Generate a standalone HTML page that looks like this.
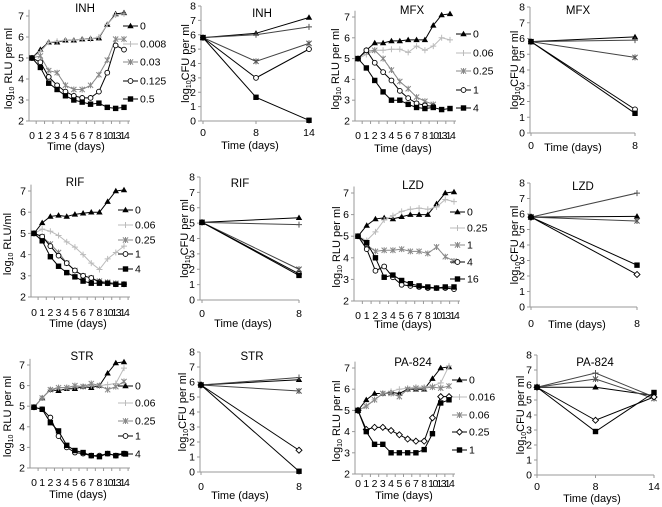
<!DOCTYPE html>
<html><head><meta charset="utf-8">
<style>
body{margin:0;background:#fff;}
svg{display:block;font-family:"Liberation Sans",Arial,sans-serif;}
</style></head>
<body>
<svg id="fig" width="662" height="507" viewBox="0 0 662 507"></svg>
<script>
// ---- data ----
const rluDays = ["0","1","2","3","4","5","6","7","8","10","13","14"];
const cfuDays2 = ["0","8"];
const cfuDays3 = ["0","8","14"];

const inhConc = ["0","0.008","0.03","0.125","0.5"];
const inhRlu0 = [5,5.4,5.75,5.75,5.85,5.85,5.9,5.92,5.95,6.6,7.1,7.15];
const inhRlu1 = [5,5.3,5.75,5.8,5.85,5.85,5.9,5.9,6.0,6.6,7.05,7.1];
const inhRlu2 = [5,5.1,4.4,4.3,3.7,3.5,3.5,3.7,4.2,4.9,5.9,5.9];
const inhRlu3 = [5,4.8,4.1,3.7,3.4,3.2,3.1,3.1,3.4,4.3,5.6,5.4];
const inhRlu4 = [5,4.55,3.8,3.5,3.2,3.0,2.9,2.8,2.85,2.65,2.6,2.65];
const inhCfu0 = [5.8,6.1,7.2];
const inhCfu1 = [5.8,6.0,6.55];
const inhCfu2 = [5.8,4.15,5.4];
const inhCfu3 = [5.8,3.0,5.0];
const inhCfu4 = [5.8,1.65,0.05];

const mfxConc = ["0","0.06","0.25","1","4"];
const mfxRlu0 = [5,5.4,5.75,5.75,5.85,5.85,5.9,5.9,5.9,6.6,7.1,7.15];
const mfxRlu1 = [5,5.2,5.4,5.4,5.45,5.45,5.3,5.6,5.4,5.6,6.0,5.9];
const mfxRlu2 = [5,5.35,5.4,5.0,4.45,3.9,3.55,3.15,2.95,2.8];
const mfxRlu3 = [5,5.4,4.8,4.35,3.95,3.45,3.1,2.85,2.75,2.7];
const mfxRlu4 = [5,4.55,3.95,3.4,3.0,3.0,2.8,2.65,2.6,2.65,2.55,2.6];
const mfxCfu0 = [5.8,6.1];
const mfxCfu1 = [5.8,5.9];
const mfxCfu2 = [5.8,4.8];
const mfxCfu3 = [5.8,1.5];
const mfxCfu4 = [5.8,1.25];

const rifConc = ["0","0.06","0.25","1","4"];
const rifRlu0 = [5,5.5,5.8,5.85,5.8,5.9,5.95,6.0,6.0,6.5,7.0,7.05];
const rifRlu1 = [5,5.2,5.1,4.9,4.6,4.35,4.0,3.6,3.3,3.8,4.1,4.4];
const rifRlu2 = [5,4.85,4.5,4.1,3.6,3.25,3.0,2.9,2.75,2.7,2.65,2.6];
const rifRlu3 = [5,4.85,4.4,3.95,3.6,3.25,3.0,2.9,2.7,2.65,2.6,2.6];
const rifRlu4 = [5,4.65,3.9,3.45,3.15,2.95,2.75,2.65,2.65,2.65,2.6,2.6];
const rifCfu0 = [5.05,5.35];
const rifCfu1 = [5.05,4.9];
const rifCfu2 = [5.05,2.0];
const rifCfu3 = [5.05,1.7];
const rifCfu4 = [5.05,1.6];

const lzdConc = ["0","0.25","1","4","16"];
const lzdRlu0 = [5,5.5,5.8,5.85,5.8,5.9,6.0,6.0,6.0,6.5,7.0,7.05];
const lzdRlu1 = [5,4.8,5.2,5.75,5.95,6.15,6.25,6.3,6.25,6.35,6.7,6.6];
const lzdRlu2 = [5,4.6,4.3,4.35,4.35,4.4,4.3,4.3,4.2,4.5,4.05,3.85];
const lzdRlu3 = [5,4.4,3.4,3.6,3.1,2.75,2.7,2.65,2.6,2.6,2.6,2.55];
const lzdRlu4 = [5,4.7,4.0,3.1,3.2,2.95,2.8,2.7,2.65,2.6,2.65,2.65];
const lzdCfu0 = [5.8,5.85];
const lzdCfu1 = [5.8,7.35];
const lzdCfu2 = [5.8,5.55];
const lzdCfu3 = [5.8,2.1];
const lzdCfu4 = [5.8,2.7];

const strConc = ["0","0.06","0.25","1","4"];
const strRlu0 = [4.95,5.4,5.8,5.75,5.85,5.85,5.95,5.9,6.0,6.6,7.1,7.15];
const strRlu1 = [4.95,5.4,5.8,5.9,5.9,5.95,5.95,6.0,6.0,6.05,6.1,6.85];
const strRlu2 = [4.95,5.4,5.8,5.9,5.9,6.0,5.95,6.1,6.0,5.8,5.95,6.2];
const strRlu3 = [4.95,4.85,4.45,3.55,3.0,2.75,2.7,2.6,2.6,2.7,2.6,2.7];
const strRlu4 = [4.95,4.85,4.2,3.8,3.1,2.85,2.75,2.6,2.55,2.7,2.6,2.7];
const strCfu0 = [5.8,6.15];
const strCfu1 = [5.8,6.3];
const strCfu2 = [5.8,5.4];
const strCfu3 = [5.8,1.45];
const strCfu4 = [5.8,0.05];

const paConc = ["0","0.016","0.06","0.25","1"];
const paRlu0 = [5,5.5,5.8,5.8,5.85,5.8,6.0,6.0,6.0,6.5,7.0,7.05];
const paRlu1 = [5,5.2,5.5,5.8,5.9,6.0,6.05,6.1,6.1,6.15,6.3,7.1];
const paRlu2 = [5,5.2,5.5,5.8,5.8,5.65,6.0,6.05,6.05,6.1,6.05,6.15];
const paRlu3 = [5,4.1,4.2,4.2,4.05,3.85,3.65,3.55,3.55,4.65,5.65,5.65];
const paRlu4 = [5,4.0,3.4,3.4,3.0,3.0,3.0,3.0,3.15,3.9,5.35,5.5];
const paCfu0 = [5.85,5.85,5.3];
const paCfu1 = [5.85,6.8,5.2];
const paCfu2 = [5.85,6.4,5.1];
const paCfu3 = [5.85,3.65,5.2];
const paCfu4 = [5.85,2.9,5.5];

const rluTicks = [2,3,4,5,6,7];
const cfuTicks = [0,1,2,3,4,5,6,7,8];

// ---- rendering ----
const NS = "http://www.w3.org/2000/svg";
const svg = document.getElementById("fig");
function mk(tag, attrs, parent){
  const e = document.createElementNS(NS, tag);
  for (const k in attrs) e.setAttribute(k, attrs[k]);
  (parent||svg).appendChild(e);
  return e;
}
const styles = [
  {stroke:"#000", marker:"tri"},
  {stroke:"#bbb", marker:"plus"},
  {stroke:"#888", marker:"x"},
  {stroke:"#000", marker:"circ"},
  {stroke:"#000", marker:"sq"}
];
function marker(g, type, x, y, col){
  if (type==="tri") mk("path",{d:`M${x} ${y-3.2}L${x+3.2} ${y+2.3}L${x-3.2} ${y+2.3}Z`,fill:"#000"},g);
  else if (type==="sq") mk("rect",{x:x-2.7,y:y-2.7,width:5.4,height:5.4,fill:"#000"},g);
  else if (type==="circ") mk("circle",{cx:x,cy:y,r:2.4,fill:"#fff",stroke:"#000","stroke-width":0.9},g);
  else if (type==="diam") mk("path",{d:`M${x} ${y-3}L${x+3} ${y}L${x} ${y+3}L${x-3} ${y}Z`,fill:"#fff",stroke:"#000","stroke-width":0.9},g);
  else if (type==="plus") mk("path",{d:`M${x-3} ${y}H${x+3}M${x} ${y-3}V${y+3}`,stroke:col,"stroke-width":1},g);
  else if (type==="x") mk("path",{d:`M${x-2.6} ${y-2.6}L${x+2.6} ${y+2.6}M${x+2.6} ${y-2.6}L${x-2.6} ${y+2.6}M${x} ${y-3}V${y+3}`,stroke:col,"stroke-width":1},g);
}
function text(g, x, y, s, opts){
  const t = mk("text", Object.assign({x:x,y:y,"font-size":10.5,fill:"#000","text-anchor":"middle"}, opts||{}), g);
  t.textContent = s;
  return t;
}

function drawPanel(p){
  const g = mk("g",{});
  
  
  const yScale = v => p.yBot + (v - p.vMin) / (p.vMax - p.vMin) * (p.yTop - p.yBot);
  const n = p.cats.length;
  const xScale = i => p.xFirst + i * (p.xLast - p.xFirst) / (n - 1);
  const ax = mk("g",{},g);
  
  
  const axisTopV = p.rlu ? p.vMax + 0.3 : p.vMax;
  mk("line",{x1:p.axX,y1:yScale(p.vMin),x2:p.axX,y2:yScale(axisTopV),stroke:"#999","stroke-width":1},ax);
  const xEnd = p.rlu ? xScale(n-1)+6 : p.xLast;
  mk("line",{x1:p.axX,y1:yScale(p.vMin),x2:xEnd,y2:yScale(p.vMin),stroke:"#999","stroke-width":1},ax);
  p.ticks.forEach(v=>{
    const y = yScale(v);
    mk("line",{x1:p.axX-3,y1:y,x2:p.axX,y2:y,stroke:"#999"},ax);
    const t = text(ax, p.axX-5, y+3.5, String(v), {"text-anchor":"end","font-size":10.5});
    
    
  });
  p.cats.forEach((c,i)=>{
    const x = xScale(i);
    if (p.rlu) mk("line",{x1:x+(xScale(1)-xScale(0))/2,y1:yScale(p.vMin),x2:x+(xScale(1)-xScale(0))/2,y2:yScale(p.vMin)+3,stroke:"#999"},ax);
    else mk("line",{x1:x,y1:yScale(p.vMin),x2:x,y2:yScale(p.vMin)+3,stroke:"#999"},ax);
    const t = text(ax, x, p.tickY, c, {"font-size": 10.5, "letter-spacing": (p.rlu && c.length>1) ? "-1.5" : "0"});
    
    
  });
  const xt = text(g, p.xtX, p.xtY, "Time (days)", {"font-size":11});
  
  
  const yc = (yScale(p.vMin)+yScale(p.vMax))/2;
  const yt = mk("text",{x:p.ytX,y:yc,"font-size":11,"text-anchor":"middle",transform:`rotate(-90 ${p.ytX} ${yc})`},g);
  
  
  const t1 = mk("tspan",{},yt); t1.textContent = "log";
  const t2 = mk("tspan",{"font-size":7,dy:2}); yt.appendChild(t2); t2.textContent = "10";
  const t3 = mk("tspan",{dy:-2}); yt.appendChild(t3); t3.textContent = p.ylab;
  const tt = text(g, p.titleX, p.titleY, p.title, {"font-size":11.5});
  
  
  p.series.forEach((vals, si)=>{
    const st = styles[si];
    const mt = (si===3 && p.diamond) ? "diam" : st.marker;
    const lineCol = p.rlu ? st.stroke : (si===1||si===2 ? "#444" : "#000");
    const sg = mk("g",{},g);
    
    
    const pts = vals.map((v,i)=>xScale(i)+","+yScale(v)).join(" ");
    mk("polyline",{points:pts,fill:"none",stroke:lineCol,"stroke-width":1},sg);
    vals.forEach((v,i)=>marker(sg, mt, xScale(i), yScale(v), p.rlu ? st.stroke : "#555"));
    if (p.legX !== undefined){
      const ly = p.legY[si];
      const lg = mk("g",{},g);
      
      
      mk("line",{x1:p.legX,y1:ly,x2:p.legX+15,y2:ly,stroke:st.stroke},lg);
      marker(lg, mt, p.legX+7.5, ly, st.stroke);
      text(lg, p.legX+17, ly+3.5, p.conc[si], {"text-anchor":"start","font-size":10.5});
    }
  });
}

const panels = [
  {name:"inh-rlu-chart",rlu:true,title:"INH",titleX:85,titleY:12,vMin:2,vMax:7,yBot:121,yTop:16,axX:29,xFirst:32,xLast:124,cats:rluDays,ticks:rluTicks,tickY:139,xtX:76,xtY:150,ytX:12,ylab:" RLU per ml",conc:inhConc,series:[inhRlu0,inhRlu1,inhRlu2,inhRlu3,inhRlu4],legX:123,legY:[26,44,62,81,99]},
  {name:"inh-cfu-chart",rlu:false,title:"INH",titleX:262,titleY:17,vMin:0,vMax:8,yBot:121,yTop:6,axX:201,xFirst:203,xLast:309,cats:cfuDays3,ticks:cfuTicks,tickY:136,xtX:250,xtY:149,ytX:189,ylab:"CFU per ml",conc:inhConc,series:[inhCfu0,inhCfu1,inhCfu2,inhCfu3,inhCfu4]},
  {name:"mfx-rlu-chart",rlu:true,title:"MFX",titleX:412,titleY:14,vMin:2,vMax:7,yBot:121,yTop:17,axX:355,xFirst:358,xLast:450,cats:rluDays,ticks:rluTicks,tickY:139,xtX:403,xtY:152,ytX:339,ylab:" RLU per ml",conc:mfxConc,series:[mfxRlu0,mfxRlu1,mfxRlu2,mfxRlu3,mfxRlu4],legX:456,legY:[34,53,71,90,108]},
  {name:"mfx-cfu-chart",rlu:false,title:"MFX",titleX:578,titleY:14,vMin:0,vMax:8,yBot:133,yTop:7,axX:530,xFirst:531,xLast:635,cats:cfuDays2,ticks:cfuTicks,tickY:149,xtX:573,xtY:151,ytX:518,ylab:"CFU per ml",conc:mfxConc,series:[mfxCfu0,mfxCfu1,mfxCfu2,mfxCfu3,mfxCfu4]},
  {name:"rif-rlu-chart",rlu:true,title:"RIF",titleX:75,titleY:186,vMin:2,vMax:7,yBot:297,yTop:191,axX:31,xFirst:34,xLast:124,cats:rluDays,ticks:rluTicks,tickY:316,xtX:78,xtY:327,ytX:11,ylab:" RLU/ml",conc:rifConc,series:[rifRlu0,rifRlu1,rifRlu2,rifRlu3,rifRlu4],legX:118,legY:[210,225,240,254,269]},
  {name:"rif-cfu-chart",rlu:false,title:"RIF",titleX:240,titleY:187,vMin:0,vMax:8,yBot:300,yTop:177,axX:200,xFirst:202,xLast:299,cats:cfuDays2,ticks:cfuTicks,tickY:317,xtX:243,xtY:327,ytX:188,ylab:"CFU per ml",conc:rifConc,series:[rifCfu0,rifCfu1,rifCfu2,rifCfu3,rifCfu4]},
  {name:"lzd-rlu-chart",rlu:true,title:"LZD",titleX:413,titleY:189,vMin:2,vMax:7,yBot:301,yTop:193,axX:354,xFirst:358,xLast:454,cats:rluDays,ticks:rluTicks,tickY:319,xtX:403,xtY:328,ytX:340,ylab:" RLU per ml",conc:lzdConc,series:[lzdRlu0,lzdRlu1,lzdRlu2,lzdRlu3,lzdRlu4],legX:450,legY:[212,228,245,262,279],diamond:false},
  {name:"lzd-cfu-chart",rlu:false,title:"LZD",titleX:583,titleY:190,vMin:0,vMax:8,yBot:307,yTop:183,axX:530,xFirst:531,xLast:637,cats:cfuDays2,ticks:cfuTicks,tickY:327,xtX:577,xtY:328,ytX:518,ylab:"CFU per ml",conc:lzdConc,series:[lzdCfu0,lzdCfu1,lzdCfu2,lzdCfu3,lzdCfu4],diamond:true},
  {name:"str-rlu-chart",rlu:true,title:"STR",titleX:82,titleY:360,vMin:2,vMax:7,yBot:468,yTop:365,axX:30,xFirst:34,xLast:124,cats:rluDays,ticks:rluTicks,tickY:486,xtX:78,xtY:498,ytX:11,ylab:" RLU per ml",conc:strConc,series:[strRlu0,strRlu1,strRlu2,strRlu3,strRlu4],legX:118,legY:[386,403,421,436,454]},
  {name:"str-cfu-chart",rlu:false,title:"STR",titleX:252,titleY:360,vMin:0,vMax:8,yBot:472,yTop:352,axX:200,xFirst:201,xLast:299,cats:cfuDays2,ticks:cfuTicks,tickY:490,xtX:240,xtY:499,ytX:186,ylab:"CFU per ml",conc:strConc,series:[strCfu0,strCfu1,strCfu2,strCfu3,strCfu4],diamond:true},
  {name:"pa824-rlu-chart",rlu:true,title:"PA-824",titleX:413,titleY:366,vMin:2,vMax:7,yBot:474,yTop:368,axX:355,xFirst:358,xLast:449,cats:rluDays,ticks:rluTicks,tickY:487,xtX:404,xtY:499,ytX:340,ylab:" RLU per ml",conc:paConc,series:[paRlu0,paRlu1,paRlu2,paRlu3,paRlu4],legX:452,legY:[380,397,415,432,450],diamond:true},
  {name:"pa824-cfu-chart",rlu:false,title:"PA-824",titleX:595,titleY:366,vMin:0,vMax:8,yBot:475,yTop:355,axX:537,xFirst:537,xLast:654,cats:cfuDays3,ticks:cfuTicks,tickY:490,xtX:592,xtY:502,ytX:524,ylab:"CFU per ml",conc:paConc,series:[paCfu0,paCfu1,paCfu2,paCfu3,paCfu4],diamond:true}
];
panels.forEach(drawPanel);
</script>
</body></html>
